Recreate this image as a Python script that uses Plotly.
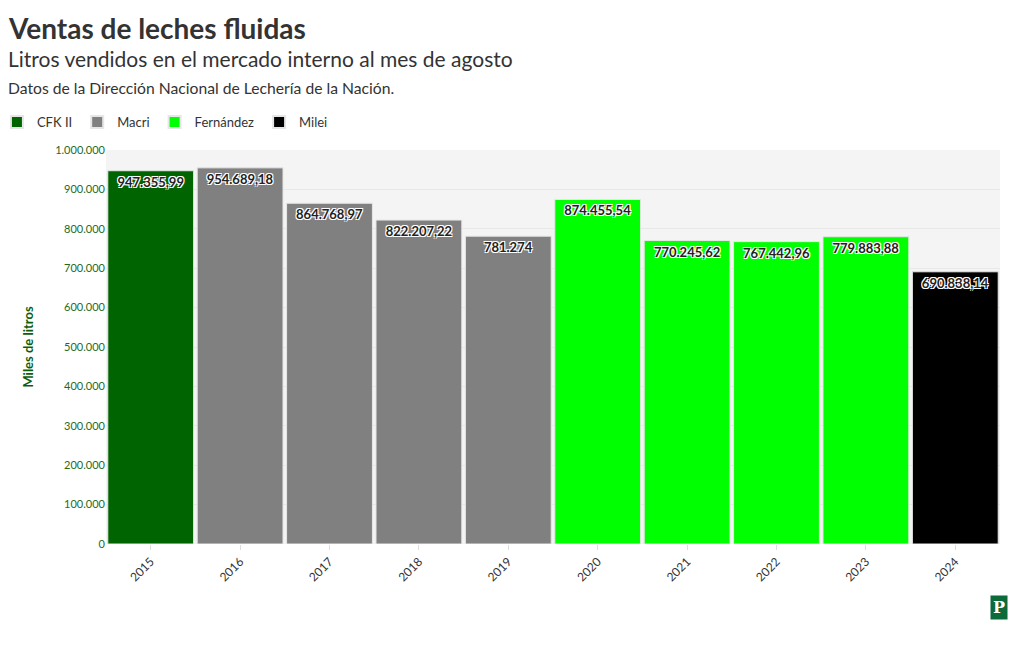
import plotly.graph_objects as go

years = ["2015", "2016", "2017", "2018", "2019", "2020", "2021", "2022", "2023", "2024"]
values = [947355.99, 954689.18, 864768.97, 822207.22, 781274, 874455.54,
          770245.62, 767442.96, 779883.88, 690838.14]
governments = ["CFK II", "Macri", "Macri", "Macri", "Macri", "Fernández",
               "Fernández", "Fernández", "Fernández", "Milei"]
gov_order = ["CFK II", "Macri", "Fernández", "Milei"]
gov_colors = {"CFK II": "#006400", "Macri": "#808080", "Fernández": "#00ff00", "Milei": "#000000"}


def fmt_es(v):
    s = f"{v:,.2f}"
    if s.endswith(".00"):
        s = s[:-3]
    return s.replace(",", "X").replace(".", ",").replace("X", ".")


FONT = "Source Sans Pro, Lato, Noto Sans, sans-serif"
shadow = "1px 1px 0px white, -1px -1px 0px white, 1px -1px 0px white, -1px 1px 0px white"

fig = go.Figure()
for g in gov_order:
    xs = [y for y, gg in zip(years, governments) if gg == g]
    ys = [v for v, gg in zip(values, governments) if gg == g]
    fig.add_trace(go.Bar(
        x=xs, y=ys, name=g,
        marker=dict(color=gov_colors[g], line=dict(color="#e6e6e6", width=1)),
        text=[fmt_es(v) for v in ys],
        textposition="inside", insidetextanchor="end",
        textangle=0,
        textfont=dict(family=FONT, size=13, color="#222222", weight="bold", shadow=shadow),
        cliponaxis=False,
        hoverinfo="skip",
    ))

fig.update_layout(
    width=1020, height=650,
    margin=dict(l=106, r=20, t=150, b=106, autoexpand=False),
    paper_bgcolor="white",
    plot_bgcolor="#f4f4f4",
    separators=",.",
    bargap=0.04,
    barmode="overlay",
    font=dict(family=FONT, color="#333333"),
    showlegend=True,
    legend=dict(orientation="h", x=-0.122, xanchor="left", y=1.071, yanchor="middle",
                font=dict(size=13, color="#333333"), itemsizing="constant",
                traceorder="normal", itemwidth=30, bgcolor="rgba(0,0,0,0)"),
    xaxis=dict(type="category", categoryorder="array", categoryarray=years,
               tickangle=-45, tickfont=dict(size=12, color="#333333"),
               ticks="outside", ticklen=5, tickcolor="#dddddd", showgrid=False),
    yaxis=dict(range=[0, 1000000], tickformat=",d", dtick=100000,
               tickfont=dict(size=11, color="#1e6b1e"),
               gridcolor="#e8e8e8", zeroline=False,
               title=dict(text="<b>Miles de litros</b>", font=dict(size=13, color="#0b5e0b"),
                          standoff=18)),
    annotations=[
        dict(text="<b>Ventas de leches fluidas</b>", xref="paper", yref="paper",
             x=-0.112, y=1.3096, xanchor="left", yanchor="middle", showarrow=False,
             font=dict(size=28, color="#333333")),
        dict(text="Litros vendidos en el mercado interno al mes de agosto", xref="paper", yref="paper",
             x=-0.112, y=1.2335, xanchor="left", yanchor="middle", showarrow=False,
             font=dict(size=21, color="#333333")),
        dict(text="Datos de la Dirección Nacional de Lechería de la Nación.", xref="paper", yref="paper",
             x=-0.112, y=1.157, xanchor="left", yanchor="middle", showarrow=False,
             font=dict(size=15.7, color="#333333")),
        dict(text="<b>P</b>", xref="paper", yref="paper",
             x=1.009, y=-0.16, xanchor="right", yanchor="middle", showarrow=False,
             bgcolor="#0b6b3a", borderpad=2,
             font=dict(size=16, color="white", family="DejaVu Serif")),
    ],
)

fig.write_html("out.html")
